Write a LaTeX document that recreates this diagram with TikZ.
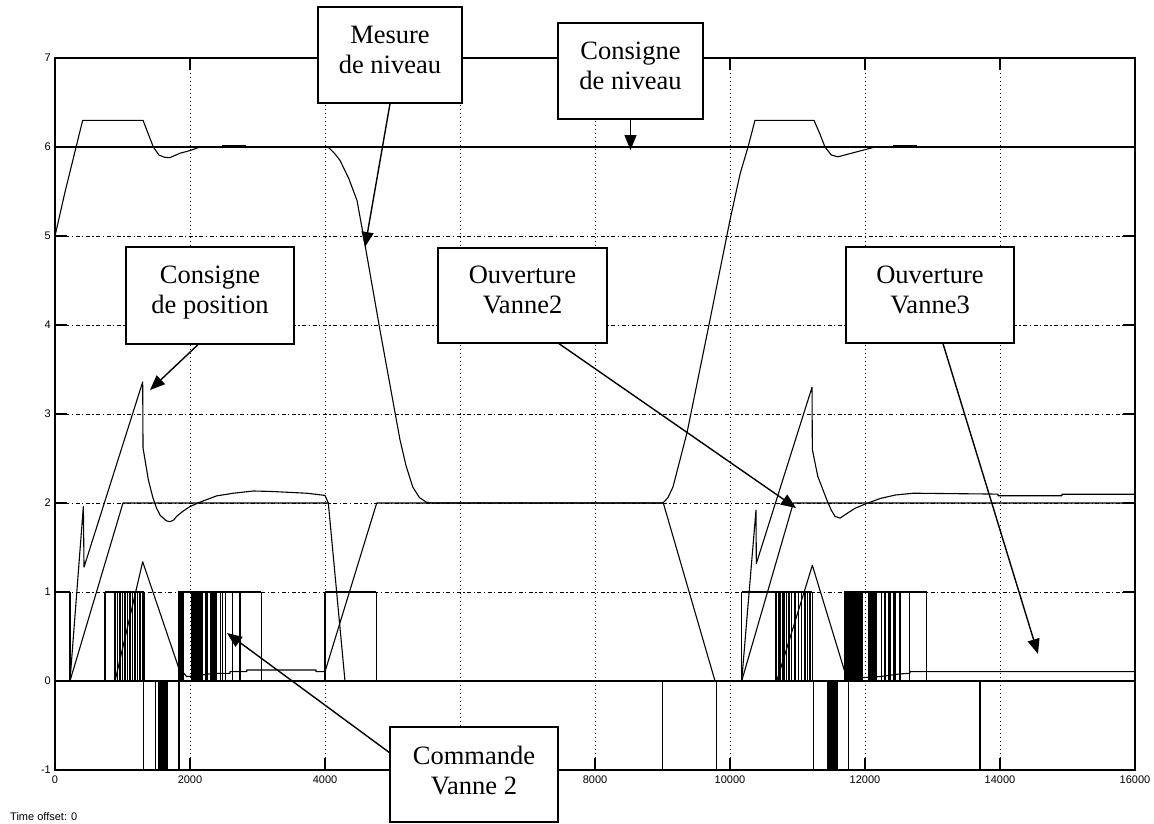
\documentclass[tikz,border=0pt]{standalone}
\usepackage{fontspec}
\setmainfont{Liberation Serif}
\setsansfont{Liberation Sans}
\usetikzlibrary{arrows.meta}

\begin{document}
\begin{tikzpicture}[x=1pt,y=-1pt,
  box/.style={draw,line width=1.3pt,fill=white,inner sep=0pt},
  boxtext/.style={font=\fontsize{26.5}{30}\selectfont,align=center,inner sep=0pt,text depth=0pt},
  lbl/.style={font=\sffamily\fontsize{11}{13}\selectfont,inner sep=0pt},
  callout/.style={line width=1.4pt,-{Triangle[length=15pt,width=12pt]}},
  vgrid/.style={line width=0.9pt,dash pattern=on 1.3pt off 2.7pt},
  hgrid/.style={line width=0.9pt,dash pattern=on 4pt off 2.5pt on 1.3pt off 2.5pt},
  tickmark/.style={line width=1.1pt},
  frame/.style={line width=1.3pt},
  dat/.style={line width=1.1pt,line join=round},
  thickdat/.style={line width=2.2pt},
  burst/.style={fill=black},
]
\useasboundingbox (0,0) rectangle (1154,823);

% ---------- plot area: time in hundreds of seconds, value upwards ----------
\begin{scope}[shift={(55,681)},x=6.75pt,y=89pt]
  % grid
  \foreach \t in {20,40,...,140} \draw[vgrid] (\t,-1) -- (\t,7);
  \foreach \v in {1,...,6} \draw[hgrid] (0,\v) -- (160,\v);
  % tick marks on the four sides
  \foreach \t in {20,40,...,140} {
    \draw[tickmark] (\t,-1) -- ++(0,0.135);
    \draw[tickmark] (\t,7) -- ++(0,-0.135);
  }
  \foreach \v in {0,...,6} {
    \draw[tickmark] (0,\v) -- ++(1.78,0);
    \draw[tickmark] (160,\v) -- ++(-1.78,0);
  }

  % level measurement
  \draw[dat] plot coordinates {(0,5) (1.5,5.5) (4.1,6.3) (13.04,6.3) (13.8,6.15) (14.57,6.0)
    (15.4,5.91) (16.2,5.885) (17,5.88) (18.52,5.93) (20,5.96) (21.48,6.0) (40,6.0)
    (40.6,5.99) (41.4,5.93) (42.22,5.85) (43.5,5.65) (44.74,5.4) (45.63,5.03) (48.15,3.94)
    (51.11,2.71) (52,2.42) (53,2.18) (54,2.06) (55,2.01) (56,2.0) (90.07,2.0) (90.8,2.06)
    (91.55,2.18) (93.63,2.79) (97.04,4.06) (100,5.18) (101.5,5.7) (102.67,6.0) (103.7,6.3)
    (112.44,6.3) (113.3,6.15) (114.07,6.0) (115,5.91) (116,5.89) (121.48,6.0) (160,6.0)};
  \draw[thickdat] (24.75,6.015) -- (28.3,6.015);
  \draw[thickdat] (124.15,6.015) -- (127.7,6.015);

  % level setpoint
  \draw[dat] (0,6) -- (160,6);

  % position setpoint
  \draw[dat] plot coordinates {(2.22,0) (4.2,1.96) (4.3,1.28) (12.99,3.36) (13.04,2.62)
    (13.83,2.26) (14.5,2.06) (15.06,1.94) (15.6,1.86) (16.05,1.83) (16.5,1.80) (17.04,1.79)
    (17.6,1.81) (18.02,1.85) (19,1.91) (20,1.96) (21.48,2.01) (23.95,2.08) (26.42,2.11)
    (29.38,2.135) (32,2.13) (37.28,2.11) (39.5,2.09) (40,2.085) (40.49,2.0) (42.96,0)};
  \draw[dat] plot coordinates {(101.73,0) (103.85,1.92) (103.9,1.32) (112.15,3.3) (112.2,2.6)
    (113,2.3) (114.37,2.03) (115,1.92) (115.56,1.85) (116.3,1.83) (117.28,1.88) (118.5,1.94)
    (119.75,1.98) (122.22,2.05) (124.5,2.09) (127.16,2.11) (139.7,2.1) (139.7,2.082)
    (149.18,2.082) (149.18,2.098) (160,2.098)};

  % valve 2 opening
  \draw[dat] plot coordinates {(2.22,0) (10.07,2) (40.49,2)};
  \draw[dat] plot coordinates {(101.73,0) (109.38,2) (160,2)};

  % valve 3 opening
  \draw[dat] plot coordinates {(8.89,0) (12.99,1.34) (18.27,0.16) (19.5,0.05) (21,0.06)
    (23.46,0.086) (25.92,0.086) (25.92,0.105) (28.4,0.105) (28.4,0.124) (38.67,0.124)
    (38.67,0.105) (40,0.105) (47.66,2.0) (90.12,2.0) (97.78,0)};
  \draw[dat] plot coordinates {(106.92,0) (112.2,1.3) (116.94,0.12) (118.5,0.04) (120,0.04)
    (122.22,0.05) (125.18,0.08) (126.6,0.086) (126.7,0.105) (160,0.105)};

  % valve 2 command: upper band (0 / 1)
  \foreach \a/\b in {0/2.22, 7.41/13.18, 18.27/30.57, 40/47.6, 101.73/112.2, 116.94/129.14}
    \draw[dat] (\a,1) -- (\b,1);
  \foreach \t in {2.22, 7.41, 8.89, 9.24, 9.63, 10.02, 10.37, 10.77, 11.11, 11.51, 11.85,
      12.25, 12.59, 12.99, 13.18, 24.55, 24.8, 25.29, 26.28, 27.41, 30.57, 40, 47.6,
      101.73, 106.81, 107.16, 107.41, 107.75, 108, 108.4, 108.74, 109.14, 109.63, 110.12,
      110.62, 111.11, 111.51, 111.85, 112.2, 122.47, 122.96, 123.46, 123.7, 124.2, 124.44,
      125.18, 126.57, 129.14}
    \draw[dat] (\t,0) -- (\t,1);
  \foreach \a/\b in {18.27/19.16, 20.12/21.98, 22.23/22.72, 22.97/24.05, 116.94/119.75, 120.44/121.78}
    \fill[burst] (\a,0) rectangle (\b,1);

  % valve 2 command: lower band (0 / -1)
  \foreach \t in {13.08, 14.91, 18.37, 90, 98, 112.4, 117.55, 137.04}
    \draw[dat] (\t,0) -- (\t,-1);
  \foreach \a/\b in {15.21/16.69, 114.3/116}
    \fill[burst] (\a,0) rectangle (\b,-1);

  % zero line and frame
  \draw[dat,line width=1.3pt] (0,0) -- (160,0);
  \draw[frame] (0,-1) rectangle (160,7);
\end{scope}

% ---------- axis labels ----------
\foreach \v in {-1,...,7}
  \node[lbl,anchor=east] (yl\v) at (51,{681-89*\v}) {\v};
\foreach \t/\px in {0/55, 2000/190, 4000/325, 8000/595, 10000/730, 12000/865, 14000/1000, 16000/1135}
  \node[lbl] (xl\t) at (\px,780) {\t};
\node[lbl,anchor=west] (toff) at (10,817) {Time offset: 0};

% ---------- annotation boxes ----------
\node[box,minimum width=144pt,minimum height=96pt] (mesure) at (390,55) {};
\node[boxtext] (mesuret) at (390,49.5) {Mesure\\de niveau};
\node[box,minimum width=145pt,minimum height=96pt] (cniv) at (630.5,71) {};
\node[boxtext] (cnivt) at (630.5,66) {Consigne\\de niveau};
\node[box,minimum width=168pt,minimum height=97pt] (cpos) at (210,295.5) {};
\node[boxtext] (cpost) at (210,289.5) {Consigne\\de position};
\node[box,minimum width=169pt,minimum height=95pt] (ov2) at (522.5,295.5) {};
\node[boxtext] (ov2t) at (522.5,289.5) {Ouverture\\Vanne2};
\node[box,minimum width=168pt,minimum height=96pt] (ov3) at (930,295) {};
\node[boxtext] (ov3t) at (930,289.5) {Ouverture\\Vanne3};
\node[box,minimum width=168pt,minimum height=95pt] (cmd) at (474,774.5) {};
\node[boxtext] (cmdt) at (474,770) {Commande\\Vanne 2};

% ---------- callout arrows ----------
\coordinate (tipmes) at (365,247);
\coordinate (tipcniv) at (630.5,150);
\coordinate (tippos) at (150,390);
\coordinate (tipov2) at (796,508);
\coordinate (tipov3) at (1038,654);
\coordinate (tipcmd) at (227,633);
\draw[callout] (mesure.south) -- (tipmes);
\draw[callout] (cniv.south) -- (tipcniv);
\draw[callout] ([xshift=-12pt]cpos.south) -- (tippos);
\draw[callout] ([xshift=36.5pt]ov2.south) -- (tipov2);
\draw[callout] ([xshift=13pt]ov3.south) -- (tipov3);
\draw[callout] ([yshift=22pt]cmd.west) -- (tipcmd);
\end{tikzpicture}
\end{document}
